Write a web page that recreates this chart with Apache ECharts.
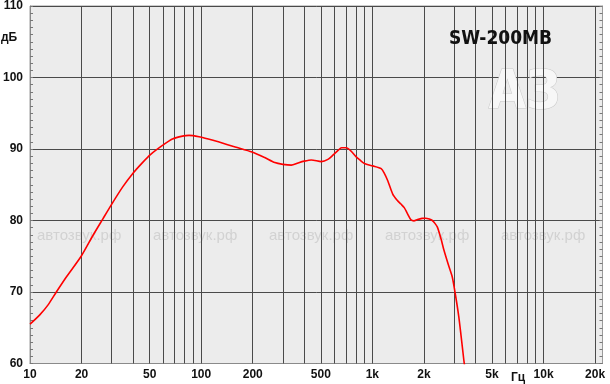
<!DOCTYPE html>
<html>
<head>
<meta charset="utf-8">
<script src="https://cdn.jsdelivr.net/npm/echarts@6/dist/echarts.min.js"></script>
<style>
html,body{margin:0;padding:0;background:#fff;}
#c{width:610px;height:384px;}
</style>
</head>
<body>
<div id="c"></div>
<script>
// Frequency (Hz) and SPL (dB)
const freqs = [10, 11.4, 12.75, 14.25, 16.3, 19.9, 23.3, 26.6, 30.4, 34.8, 39.75, 45.4, 50.7, 59.4, 67.9, 77.7, 84.9, 97, 110, 126, 158, 198, 235, 269, 300, 336, 368, 400, 440, 504, 550, 588, 630, 660, 704, 751, 802, 841, 899, 1005, 1126, 1175, 1230, 1315, 1400, 1468, 1535, 1600, 1681, 1750, 1836, 1950, 2048, 2150, 2240, 2320, 2398, 2520, 2620, 2780, 2927, 3058, 3197, 3300, 3419, 3460];
const spl = [65.5, 66.8, 68.2, 70.0, 72.1, 75.0, 77.9, 80.2, 82.5, 84.7, 86.55, 88.1, 89.25, 90.5, 91.4, 91.8, 91.9, 91.72, 91.4, 91.0, 90.28, 89.58, 88.8, 88.1, 87.85, 87.74, 88.05, 88.3, 88.47, 88.24, 88.55, 89.13, 89.8, 90.18, 90.18, 89.7, 88.93, 88.5, 87.96, 87.64, 87.26, 86.6, 85.56, 83.7, 82.8, 82.3, 81.8, 81.0, 80.1, 79.95, 80.14, 80.3, 80.32, 80.2, 80.0, 79.6, 79.07, 77.4, 75.83, 73.8, 72.13, 69.58, 66.57, 63.8, 60.56, 59.6];

// Vertical grid lines (log grid)
const gridFreqs = [20, 30, 40, 50, 60, 70, 80, 90, 100, 200, 300, 400, 500, 600, 700, 800, 900, 1000, 2000, 3000, 4000, 5000, 6000, 7000, 8000, 9000, 10000, 20000];
// Labelled x ticks
const xTickValues = [10, 20, 50, 100, 200, 500, 1000, 2000, 5000, 10000, 20000];
const xTickLabels = ['10', '20', '50', '100', '200', '500', '1k', '2k', '5k', '10k', '20k'];

const title = 'SW-200MB';
const yUnit = 'дБ';
const xUnit = 'Гц';
const watermark = 'автозвук.рф';
const logo = 'АЗ';

const chart = echarts.init(document.getElementById('c'), null, {renderer: 'canvas'});

const labelFont = {fontFamily: 'Liberation Sans, Arial, sans-serif', fontWeight: 'bold', fontSize: 12, color: '#111'};

const allLineFreqs = [10].concat(gridFreqs);
const vLineData = allLineFreqs.map(f => {
  const idx = xTickValues.indexOf(f);
  const item = {xAxis: f};
  if (f === 10) item.lineStyle = {color: 'rgba(0,0,0,0)'};
  if (idx >= 0) {
    item.label = Object.assign({show: true, position: 'start', distance: 5, formatter: xTickLabels[idx]}, labelFont);
  }
  return item;
});

const wmX = [37, 153, 269, 385, 501];

const option = {
  animation: false,
  backgroundColor: '#ffffff',
  grid: {left: 27, right: 7.5, top: 4, bottom: 20.5, show: true, backgroundColor: '#ececec', borderColor: '#9a9a9a', borderWidth: 1},
  xAxis: {
    type: 'log', logBase: 10, min: 10, max: 22100,
    axisLine: {show: true, lineStyle: {color: '#8a8a8a', width: 1}},
    axisTick: {show: false}, axisLabel: {show: false},
    splitLine: {show: false}, minorSplitLine: {show: false}
  },
  yAxis: [{
    type: 'value', min: 60, max: 110, interval: 10,
    axisLine: {show: true, lineStyle: {color: '#8a8a8a'}},
    axisTick: {show: true, inside: true, length: 3, lineStyle: {color: '#777'}},
    minorTick: {show: true, splitNumber: 10, length: 3, lineStyle: {color: '#777'}},
    axisLabel: Object.assign({margin: 7}, labelFont),
    splitLine: {show: true, lineStyle: {color: '#4a4a4a', width: 1}}
  }, {
    type: 'value', min: 60, max: 110, interval: 10, position: 'right',
    axisLine: {show: true, lineStyle: {color: '#9a9a9a'}},
    axisTick: {show: true, inside: true, length: 3, lineStyle: {color: '#777'}},
    minorTick: {show: true, splitNumber: 10, length: 3, lineStyle: {color: '#777'}},
    axisLabel: {show: false}, splitLine: {show: false}
  }],
  graphic: [
    ...wmX.map(x => ({type: 'text', left: x, top: 228, z: 1, silent: true,
      style: {text: watermark, font: '15px "Liberation Sans", Arial, sans-serif', fill: '#d2d2d2'}})),
    {type: 'text', left: 488, top: 66, z: 1, silent: true,
      style: {text: logo, font: 'bold 54px "DejaVu Sans Condensed", sans-serif', fill: '#f7f7f7', stroke: '#c9c9c9', lineWidth: 1}},
    {type: 'text', left: 449, top: 30, z: 10,
      style: {text: title, font: 'bold 19px "DejaVu Sans Condensed", sans-serif', fill: '#111'}},
    {type: 'text', left: 1, top: 32, z: 10,
      style: {text: yUnit, font: 'bold 12px "Liberation Sans", Arial, sans-serif', fill: '#111'}},
    {type: 'text', left: 511, top: 372, z: 10,
      style: {text: xUnit, font: 'bold 12px "Liberation Sans", Arial, sans-serif', fill: '#111'}}
  ],
  series: [{
    type: 'line', data: [], z: 2, silent: true,
    markLine: {
      silent: true, symbol: 'none', animation: false,
      label: {show: false},
      lineStyle: {color: '#4a4a4a', width: 1, type: 'solid'},
      data: vLineData
    }
  }, {
    type: 'line', z: 5, showSymbol: false, smooth: 0.25, clip: true,
    lineStyle: {color: '#ff0000', width: 1.6},
    data: freqs.map((f, i) => [f, spl[i]])
  }]
};
chart.setOption(option);
</script>
</body>
</html>
